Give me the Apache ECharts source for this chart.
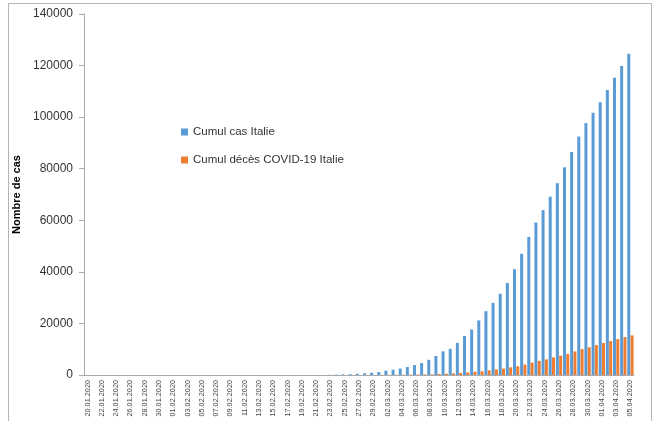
<!DOCTYPE html>
<html><head><meta charset="utf-8">
<script src="https://cdn.jsdelivr.net/npm/echarts@6/dist/echarts.min.js"></script>
<style>html,body{margin:0;padding:0;background:#fff}#c{width:656px;height:421px}</style>
</head><body><div id="c"></div>
<script>
// Dates 20.01.2020 .. 05.04.2020
const dates = [
"20.01.2020","21.01.2020","22.01.2020","23.01.2020","24.01.2020","25.01.2020","26.01.2020","27.01.2020","28.01.2020","29.01.2020","30.01.2020","31.01.2020",
"01.02.2020","02.02.2020","03.02.2020","04.02.2020","05.02.2020","06.02.2020","07.02.2020","08.02.2020","09.02.2020","10.02.2020","11.02.2020","12.02.2020","13.02.2020","14.02.2020","15.02.2020","16.02.2020","17.02.2020","18.02.2020","19.02.2020","20.02.2020","21.02.2020","22.02.2020","23.02.2020","24.02.2020","25.02.2020","26.02.2020","27.02.2020","28.02.2020","29.02.2020",
"01.03.2020","02.03.2020","03.03.2020","04.03.2020","05.03.2020","06.03.2020","07.03.2020","08.03.2020","09.03.2020","10.03.2020","11.03.2020","12.03.2020","13.03.2020","14.03.2020","15.03.2020","16.03.2020","17.03.2020","18.03.2020","19.03.2020","20.03.2020","21.03.2020","22.03.2020","23.03.2020","24.03.2020","25.03.2020","26.03.2020","27.03.2020","28.03.2020","29.03.2020","30.03.2020","31.03.2020",
"01.04.2020","02.04.2020","03.04.2020","04.04.2020","05.04.2020"];

const cases = [
0,0,0,0,0,0,0,0,0,0,0,0,
0,0,0,0,0,0,0,0,0,0,0,0,0,0,0,0,0,0,0,0,0,20,79,152,229,322,453,655,888,
1128,1694,2036,2502,3089,3858,4636,5883,7375,9172,10149,12462,15113,17660,21157,24747,27980,31506,35713,41035,47021,53578,59138,63927,69176,74386,80539,86498,92472,97689,101739,
105792,110574,115242,119827,124632];

const deaths = [
0,0,0,0,0,0,0,0,0,0,0,0,
0,0,0,0,0,0,0,0,0,0,0,0,0,0,0,0,0,0,0,0,0,1,2,3,7,10,12,17,21,
29,34,52,79,107,148,197,233,366,463,631,827,1016,1266,1441,1809,2158,2503,2978,3405,4032,4825,5476,6077,6820,7503,8165,9134,10023,10779,11591,
12428,13155,13915,14681,15362];

const yTicks = [0,20000,40000,60000,80000,100000,120000,140000];

const chart = echarts.init(document.getElementById('c'), null, {renderer:'canvas'});
const font = 'Liberation Sans, Arial, sans-serif';
chart.setOption({
  animation:false,
  graphic:[{type:'rect',shape:{x:8.5,y:3.5,width:643,height:430},style:{fill:'none',stroke:'#b4b4b4',lineWidth:1},silent:true,z:-1}],
  legend:{
    orient:'vertical', left:176, top:121, itemWidth:7, itemHeight:7, itemGap:16,
    icon:'rect',
    textStyle:{fontFamily:font,fontSize:11.5,color:'#333'},
    data:['Cumul cas Italie','Cumul décès COVID-19 Italie']
  },
  grid:{left:84,right:22,top:14,bottom:46,containLabel:false},
  xAxis:{
    type:'category', data:dates, boundaryGap:true,
    axisLine:{lineStyle:{color:'#aaa'}},
    axisTick:{interval:1,length:4,lineStyle:{color:'#aaa'}},
    axisLabel:{interval:1,rotate:90,fontFamily:font,fontSize:7.3,color:'#444',margin:5}
  },
  yAxis:{
    type:'value', min:yTicks[0], max:yTicks[yTicks.length-1], interval:20000,
    name:'Nombre de cas', nameLocation:'middle', nameGap:60, nameRotate:90,
    nameTextStyle:{fontFamily:font,fontSize:11,fontWeight:'bold',color:'#000'},
    axisLine:{show:true,lineStyle:{color:'#aaa'}},
    axisTick:{show:true,length:5,lineStyle:{color:'#aaa'}},
    splitLine:{show:false},
    axisLabel:{fontFamily:font,fontSize:12,color:'#333',margin:11,formatter:v=>String(v)}
  },
  series:[
    {name:'Cumul cas Italie',type:'bar',data:cases,barWidth:3,barGap:'10%',itemStyle:{color:'#5b9bd5'}},
    {name:'Cumul décès COVID-19 Italie',type:'bar',data:deaths,barWidth:3,itemStyle:{color:'#ed7d31'}}
  ]
});
</script></body></html>
